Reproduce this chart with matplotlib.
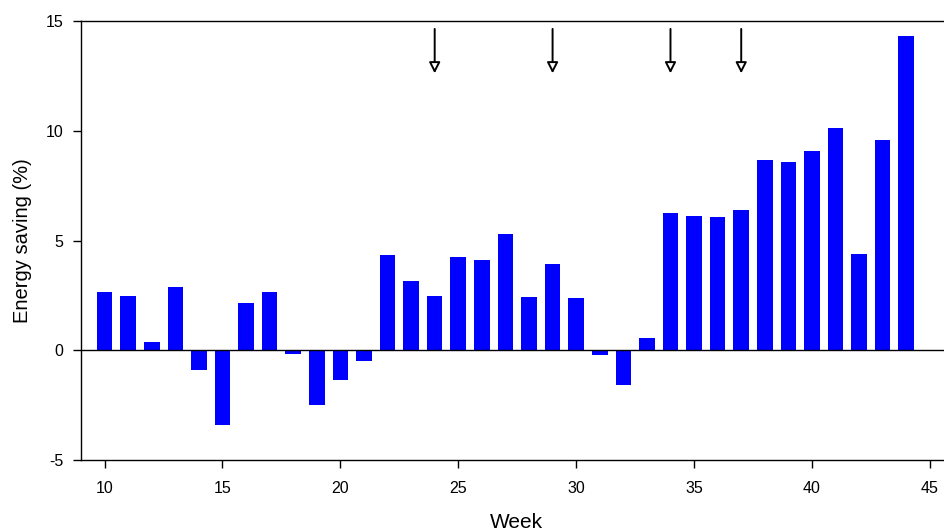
import numpy as np
import matplotlib
matplotlib.use("Agg")
import matplotlib.pyplot as plt

# weekly energy saving
weeks = list(range(10, 45))
saving = [2.66, 2.47, 0.37, 2.88, -0.91, -3.40, 2.15, 2.66, -0.14, -2.47,
          -1.33, -0.48, 4.35, 3.16, 2.47, 4.27, 4.10, 5.32, 2.43, 3.93,
          2.37, -0.22, -1.59, 0.56, 6.25, 6.11, 6.06, 6.39, 8.66, 8.57,
          9.06, 10.13, 4.38, 9.57, 14.34]
# weeks marked with arrows
arrow_weeks = [24, 29, 34, 37]
x_ticks = [10, 15, 20, 25, 30, 35, 40, 45]
y_ticks = [-5, 0, 5, 10, 15]

plt.rcParams['font.family'] = ['Liberation Sans', 'DejaVu Sans']
plt.rcParams['axes.unicode_minus'] = False

fig = plt.figure(figsize=(9.44, 5.32), dpi=100)
ax = fig.add_axes([0.0858, 0.1348, 0.9142, 0.8257])

ax.bar(weeks, saving, width=0.66, color='#0000ff', edgecolor='none', zorder=2)
ax.axhline(0, color='black', lw=1.0, zorder=3)

# arrows at top
for w in arrow_weeks:
    ax.annotate('', xy=(w, 12.62), xytext=(w, 14.64),
                arrowprops=dict(arrowstyle='-|>,head_length=0.65,head_width=0.33',
                                fc='white', ec='black', lw=1.4,
                                shrinkA=0, shrinkB=0))

ax.set_xlim(9, 45.6)
ax.set_ylim(-5, 15)
ax.set_xticks(x_ticks)
ax.set_yticks(y_ticks)
ax.tick_params(direction='out', length=6, width=1, labelsize=11.5)
ax.tick_params(axis='x', pad=9)
ax.tick_params(axis='y', pad=6.5)
ax.spines['right'].set_visible(False)
for s in ['left', 'bottom', 'top']:
    ax.spines[s].set_linewidth(1.0)

ax.set_xlabel('Week', fontsize=15, labelpad=15)
ax.xaxis.set_label_coords(0.505, -0.12)
ax.xaxis.label.set_va('top')
ax.set_ylabel('Energy saving (%)', fontsize=14.5, labelpad=10)

fig.savefig('out.png', dpi=100)
